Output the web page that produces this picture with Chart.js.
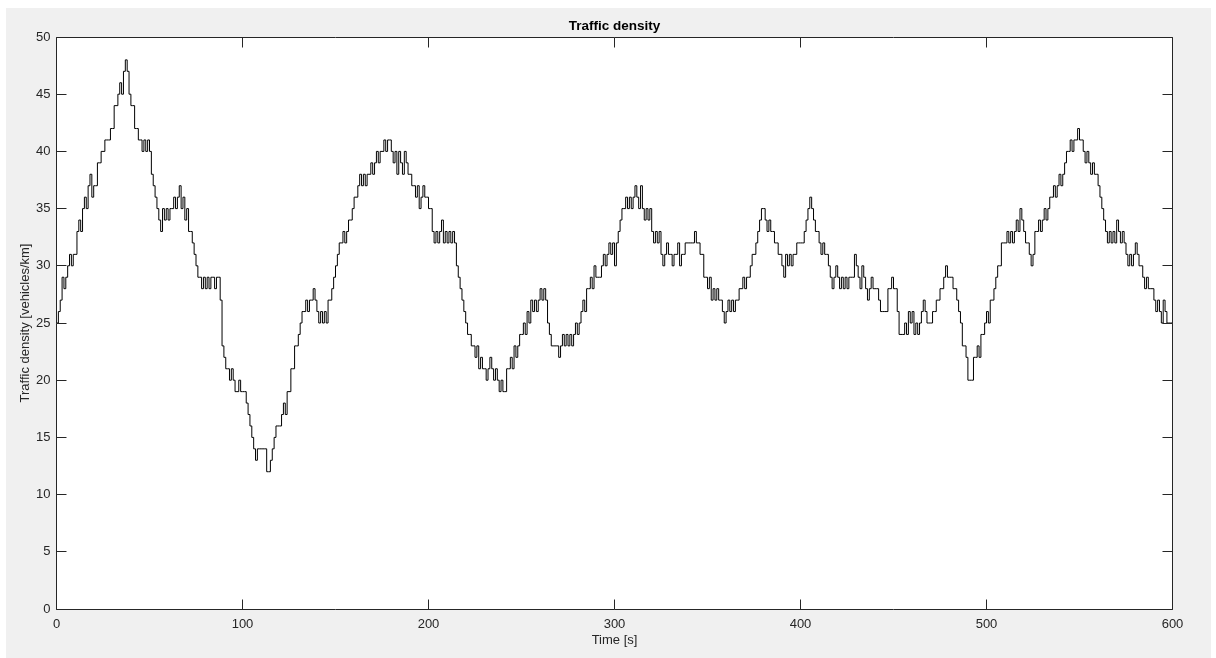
<!DOCTYPE html>
<html>
<head>
<meta charset="utf-8">
<script src="https://cdn.jsdelivr.net/npm/chart.js@4/dist/chart.umd.min.js"></script>
<style>
  html, body { margin: 0; padding: 0; background: #ffffff; }
  #wrap { width: 1216px; height: 658px; }
</style>
</head>
<body>
<div id="wrap"><canvas id="c" width="1216" height="658"></canvas></div>
<script>
// ---- data ----
const chartTitle = 'Traffic density';
const xAxisTitle = 'Time [s]';
const yAxisTitle = 'Traffic density [vehicles/km]';
const sampleStepSeconds = 1;
const xTickValues = [0, 100, 200, 300, 400, 500, 600];
const yTickValues = [0, 5, 10, 15, 20, 25, 30, 35, 40, 45, 50];

// traffic density, one reading per second from t = 0 s to t = 600 s
const density = [
  25,26,27,29,28,29,30,31,30,31,
  31,33,34,33,35,36,35,37,38,36,
  37,37,39,39,40,40,41,41,41,42,
  42,44,44,45,46,45,47,48,47,45,
  44,44,42,42,41,41,40,41,40,41,
  40,38,37,36,35,34,33,35,34,35,
  34,35,35,36,35,36,37,35,36,34,
  35,33,33,32,31,30,29,29,28,29,
  28,29,28,29,29,28,29,29,27,23,
  22,21,21,20,21,20,19,19,20,19,
  19,19,18,17,16,15,14,13,14,14,
  14,14,14,12,12,13,14,15,16,16,
  16,17,18,17,19,19,21,21,23,23,
  24,25,26,26,27,26,27,27,28,27,
  26,25,26,25,26,25,27,27,28,29,
  30,31,32,32,33,32,33,34,34,35,
  36,36,37,38,37,38,37,38,38,39,
  38,39,40,39,40,40,41,40,41,41,
  40,39,40,38,40,39,38,40,39,38,
  38,37,37,36,37,35,36,37,36,36,
  35,35,33,32,33,32,33,34,32,33,
  32,33,32,33,32,30,29,28,27,26,
  25,24,24,23,23,22,23,21,22,21,
  21,20,21,22,21,20,21,20,19,20,
  19,19,21,21,22,21,23,22,23,24,
  24,25,24,26,25,27,26,27,26,27,
  28,27,28,27,25,24,23,23,23,23,
  22,23,24,23,24,23,24,23,24,25,
  24,25,26,27,26,28,28,29,28,30,
  29,29,29,30,31,30,31,32,31,32,
  30,32,33,34,35,35,36,35,36,35,
  36,37,36,35,37,35,34,35,34,35,
  33,32,33,32,33,31,30,31,32,31,
  31,30,31,31,32,30,31,31,32,32,
  32,32,32,33,32,32,31,31,29,29,
  28,29,27,28,27,28,27,27,26,25,
  26,27,26,27,26,27,27,28,28,29,
  28,29,29,30,31,31,32,33,34,35,
  35,34,33,34,33,33,32,32,31,31,
  30,29,31,30,31,30,31,31,32,32,
  32,32,33,34,35,36,35,34,33,33,
  32,31,32,31,31,30,29,28,29,30,
  29,28,29,28,29,28,29,29,29,31,
  30,29,28,30,29,28,27,28,29,28,
  28,28,27,26,26,26,26,28,28,29,
  28,28,26,24,24,24,25,24,26,25,
  26,24,25,24,25,26,27,26,25,25,
  25,26,26,27,27,28,28,29,30,29,
  29,29,28,28,27,26,25,23,23,22,
  20,20,20,22,22,23,22,24,24,25,
  26,25,27,27,28,29,30,30,32,32,
  32,33,32,33,32,33,34,33,35,34,
  33,32,32,31,30,31,33,33,34,33,
  34,35,34,35,36,36,37,36,37,38,
  37,38,39,40,40,41,40,41,41,42,
  41,41,40,39,40,39,38,39,38,38,
  37,36,35,34,33,32,33,32,33,32,
  34,33,32,33,32,31,30,31,30,31,
  32,31,30,30,29,28,29,28,28,28,
  27,26,27,26,25,27,26,25,25,25,
  24
];

// ---- build library data from the arrays ----
const points = density.map((v, i) => ({ x: i * sampleStepSeconds, y: v }));

const FONT = "'Liberation Sans', Arial, Helvetica, sans-serif";
const AXIS_COLOR = '#262626';

const framePlugin = {
  id: 'frame',
  beforeDraw(chart) {
    const ctx = chart.ctx;
    const a = chart.chartArea;
    ctx.save();
    ctx.fillStyle = '#ffffff';
    ctx.fillRect(0, 0, chart.width, chart.height);
    ctx.fillStyle = '#f0f0f0';
    ctx.fillRect(6, 8, 1205, 650);
    ctx.fillStyle = '#ffffff';
    ctx.fillRect(a.left, a.top, a.right - a.left, a.bottom - a.top);
    ctx.restore();
  },
  afterDraw(chart) {
    const ctx = chart.ctx;
    const a = chart.chartArea;
    const xs = chart.scales.x, ys = chart.scales.y;
    const L = Math.floor(a.left) + 0.5, R = Math.floor(a.right) + 0.5;
    const T = Math.floor(a.top) + 0.5, B = Math.floor(a.bottom) + 0.5;
    const tick = 10;
    ctx.save();
    ctx.strokeStyle = AXIS_COLOR;
    ctx.lineWidth = 1;
    ctx.beginPath();
    ctx.rect(L, T, R - L, B - T);
    xTickValues.forEach(v => {
      const px = Math.floor(xs.getPixelForValue(v)) + 0.5;
      ctx.moveTo(px, B); ctx.lineTo(px, B - tick);
      ctx.moveTo(px, T); ctx.lineTo(px, T + tick);
    });
    yTickValues.forEach(v => {
      const py = Math.floor(ys.getPixelForValue(v)) + 0.5;
      ctx.moveTo(L, py); ctx.lineTo(L + tick, py);
      ctx.moveTo(R, py); ctx.lineTo(R - tick, py);
    });
    ctx.stroke();
    ctx.restore();
  }
};

new Chart(document.getElementById('c'), {
  type: 'line',
  data: {
    datasets: [{
      data: points,
      borderColor: '#000000',
      borderWidth: 1,
      pointRadius: 0,
      stepped: true,
      fill: false,
      tension: 0
    }]
  },
  options: {
    responsive: false,
    animation: false,
    devicePixelRatio: 1,
    layout: { padding: { left: 0, right: 43.5, top: 0, bottom: 0 } },
    plugins: {
      legend: { display: false },
      title: { display: false },
      tooltip: { enabled: false }
    },
    scales: {
      x: {
        type: 'linear',
        position: 'bottom',
        min: 0, max: 600,
        afterBuildTicks(scale) { scale.ticks = xTickValues.map(v => ({ value: v })); },
        afterFit(scale) { scale.height = 49; },
        grid: { display: false, drawTicks: false },
        border: { display: false },
        ticks: { color: AXIS_COLOR, padding: 8, maxRotation: 0, font: { family: FONT, size: 13 } },
        title: {
          display: true, text: xAxisTitle, color: AXIS_COLOR,
          font: { family: FONT, size: 13 },
          padding: { top: 0, bottom: 10 }
        }
      },
      xTop: {
        type: 'linear',
        position: 'top',
        min: 0, max: 600,
        afterFit(scale) { scale.height = 37; },
        grid: { display: false, drawTicks: false },
        border: { display: false },
        ticks: { display: false },
        title: {
          display: true, text: chartTitle, color: '#000000',
          font: { family: FONT, size: 13.5, weight: 'bold' },
          padding: { top: 18, bottom: 0 }
        }
      },
      y: {
        type: 'linear',
        position: 'left',
        min: 0, max: 50,
        afterBuildTicks(scale) { scale.ticks = yTickValues.map(v => ({ value: v })); },
        afterFit(scale) { scale.width = 56.5; },
        grid: { display: false, drawTicks: false },
        border: { display: false },
        ticks: { color: AXIS_COLOR, padding: 6, font: { family: FONT, size: 13 } },
        title: {
          display: true, text: yAxisTitle, color: AXIS_COLOR,
          font: { family: FONT, size: 13 },
          padding: { top: 17.5, bottom: 0 }
        }
      }
    }
  },
  plugins: [framePlugin]
});
</script>
</body>
</html>
